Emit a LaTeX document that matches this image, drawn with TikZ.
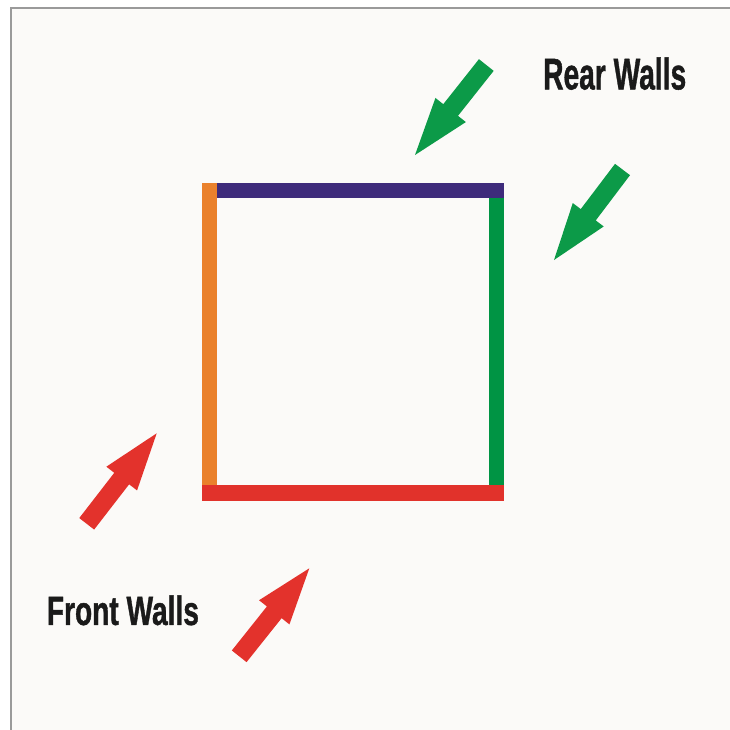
\documentclass[tikz,border=0pt]{standalone}
\usepackage{fontspec}
\setmainfont{Liberation Sans}
\newfontfamily\lblfont[FakeBold=1.2]{Liberation Sans Bold}
\usetikzlibrary{calc}
\definecolor{bgc}{HTML}{FBFAF8}
\definecolor{framec}{HTML}{9A9A9A}
\definecolor{wallorange}{HTML}{EA812C}
\definecolor{wallpurple}{HTML}{3E2B7B}
\definecolor{wallgreen}{HTML}{009444}
\definecolor{wallred}{HTML}{E1322B}
\definecolor{arrgreen}{HTML}{0C9A48}
\definecolor{arrred}{HTML}{E3322C}
\definecolor{textc}{HTML}{1A1A1A}
\newcommand\wallarrow[3]{%
  \coordinate (T) at #2;
  \coordinate (P) at #3;
  \coordinate (H) at ($(T)!0.5!(P)$);
  \fill[#1] ($(T)!9.4pt!90:(P)$) -- ($(H)!9.4pt!90:(P)$) -- ($(H)!19.4pt!90:(P)$) -- (P)
    -- ($(H)!19.4pt!-90:(P)$) -- ($(H)!9.4pt!-90:(P)$) -- ($(T)!9.4pt!-90:(P)$) -- cycle;
}
\tikzset{lbl/.style={inner sep=0pt, text=textc}}
\begin{document}
\begin{tikzpicture}[x=1pt,y=-1pt]
\useasboundingbox (0,0) rectangle (730,729);
\fill[white] (-10,-10) rectangle (745,745);
\fill[bgc] (11,8) rectangle (745,745);
\draw[framec, line width=1.6pt] (11,745) -- (11,8) -- (745,8);
% walls
\fill[wallorange] (201.7,182.7) rectangle (216.7,485);
\fill[wallpurple] (216.7,182.7) rectangle (504.3,197.7);
\fill[wallgreen] (489.3,197.7) rectangle (504.3,485);
\fill[wallred] (201.7,485) rectangle (504.3,500.7);
% arrows
\wallarrow{arrgreen}{(486.3,65)}{(415,155)}
\wallarrow{arrgreen}{(622.5,169.5)}{(554,260)}
\wallarrow{arrred}{(86.7,523.8)}{(156.7,433.3)}
\wallarrow{arrred}{(239.2,656.3)}{(309.3,568.3)}
% labels
\node[lbl, anchor=south west] (rear) at (543,90) {\resizebox{143pt}{32pt}{\lblfont Rear Walls}};
\node[lbl, anchor=south west] (front) at (46.7,625.5) {\resizebox{152pt}{29.5pt}{\lblfont Front Walls}};
\end{tikzpicture}
\end{document}
